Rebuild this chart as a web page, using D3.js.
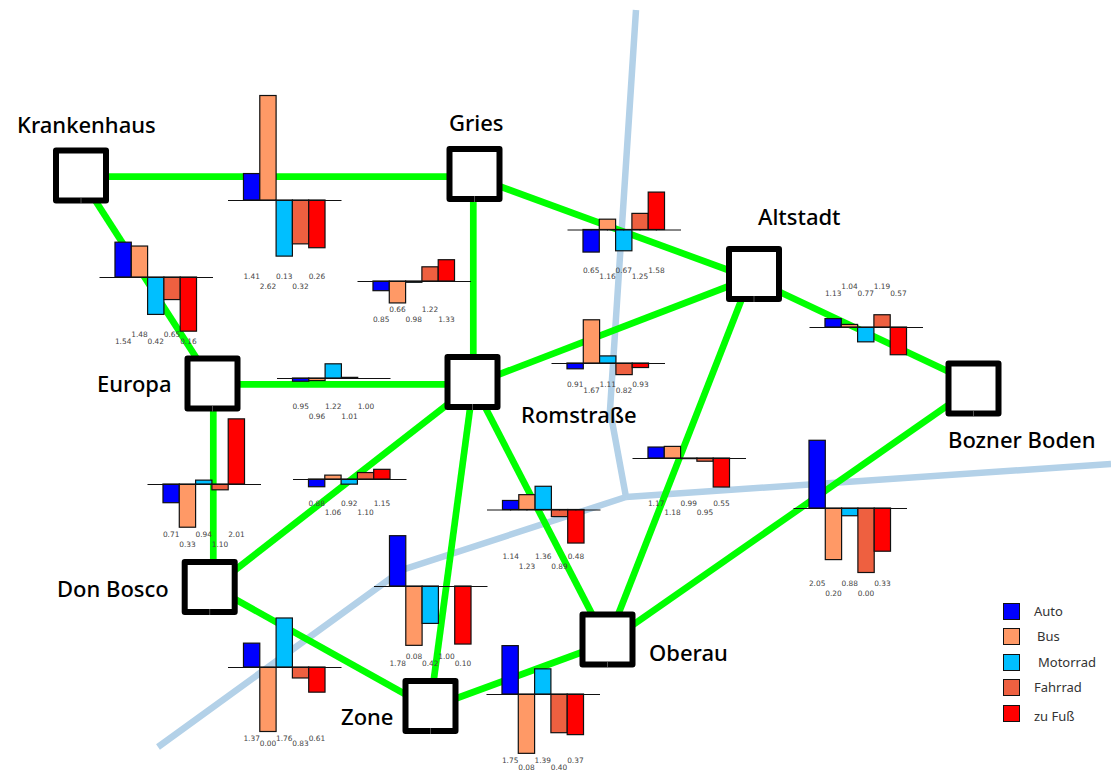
<!DOCTYPE html>
<html>
<head>
<meta charset="utf-8">
<style>
  html, body { margin: 0; padding: 0; background: #fff; }
  svg { display: block; }
</style>
<script src="https://cdn.jsdelivr.net/npm/d3@7"></script>
</head>
<body>
<svg id="chart" width="1111" height="771"></svg>
<script>
const modes = ['Auto', 'Bus', 'Motorrad', 'Fahrrad', 'zu Fuß']
const modeColors = ['#0000ff', '#ff9966', '#00bfff', '#ee6040', '#ff0000']

const stops = ['Krankenhaus', 'Gries', 'Altstadt', 'Europa', 'Romstraße', 'Bozner Boden', 'Don Bosco', 'Oberau', 'Zone']

const links = [
  ['Krankenhaus', 'Gries'],
  ['Krankenhaus', 'Europa'],
  ['Gries', 'Romstraße'],
  ['Gries', 'Altstadt'],
  ['Romstraße', 'Altstadt'],
  ['Europa', 'Romstraße'],
  ['Europa', 'Don Bosco'],
  ['Don Bosco', 'Romstraße'],
  ['Altstadt', 'Oberau'],
  ['Romstraße', 'Oberau'],
  ['Romstraße', 'Zone'],
  ['Don Bosco', 'Zone'],
  ['Zone', 'Oberau'],
  ['Altstadt', 'Bozner Boden'],
  ['Oberau', 'Bozner Boden']
]

// one row per link, same order as links
const linkValues = [
  [1.41, 2.62, 0.13, 0.32, 0.26],
  [1.54, 1.48, 0.42, 0.65, 0.16],
  [0.85, 0.66, 0.98, 1.22, 1.33],
  [0.65, 1.16, 0.67, 1.25, 1.58],
  [0.91, 1.67, 1.11, 0.82, 0.93],
  [0.95, 0.96, 1.22, 1.01, 1.00],
  [0.71, 0.33, 1.06, 0.91, 2.01],
  [0.88, 1.06, 0.92, 1.10, 1.15],
  [1.17, 1.18, 0.99, 0.95, 0.55],
  [1.14, 1.23, 1.36, 0.89, 0.48],
  [1.78, 0.08, 0.42, 1.00, 0.10],
  [1.37, 0.00, 1.76, 0.83, 0.61],
  [1.75, 0.08, 1.39, 0.40, 0.37],
  [1.13, 1.04, 0.77, 1.19, 0.57],
  [2.05, 0.20, 0.88, 0.00, 0.33]
]

// Europa - Don Bosco prints the inverse for these two, bars go the other way
const printedOverrides = { 6: [0.71, 0.33, 0.94, 1.10, 2.01] }

// Layout, not data
const stopX = [81, 474.5, 754, 212.5, 472.5, 973.5, 209.7, 607.5, 430.5]
const stopY = [175.5, 174, 274, 383.5, 382, 388.5, 587, 639.5, 706]
// edges do not meet the squares dead centre
const edgeX = [80, 473.3, 750, 213.3, 473.3, 977, 213.3, 607, 430]
const edgeY = [176.7, 176.7, 278, 384.3, 384.3, 385, 587, 643, 708]
const nameX = [17, 449, 758, 97, 521, 948, 57, 649, 341]
const nameY = [133, 131, 225, 392, 423, 448, 597, 661, 725]

const chartX = [227.5, 99, 357, 567, 551, 276.5, 147, 292.5, 632, 486.5, 373.5, 227.5, 486, 809, 793]
const chartY = [200, 277, 281, 229.5, 363, 378, 484, 479, 458, 509.5, 586, 667, 694, 327, 508]
const labelOddY = [276, 341, 319, 270, 384, 406, 534, 503, 503, 556, 663, 738, 760, 293, 583]
const labelEvenY = [286, 334, 309, 276, 390, 416, 544, 512, 512, 566, 656, 743, 767, 286, 593]

const riverNorth = [[636, 10], [610, 410], [626, 497]]
const riverEast = [[626, 497], [1111, 464]]
const riverWest = [[626, 497], [402, 570], [158, 747]]

const legendX = [1034, 1037, 1038, 1034, 1034]
const legendY = [616, 641, 667, 692, 721]
const swatchY = [603, 628, 654, 679, 705]

const svg = d3.select('#chart')
const mapX = d3.scaleIdentity()
const mapY = d3.scaleIdentity()
const stopIndex = d3.scaleOrdinal().domain(stops).range(d3.range(stops.length))
const color = d3.scaleOrdinal().domain(modes).range(modeColors)

const line = d3.line().x(d => mapX(d[0])).y(d => mapY(d[1]))

// Rivers
svg.append('g')
  .selectAll('path')
  .data([riverNorth, riverEast, riverWest])
  .enter()
  .append('path')
  .attr('d', line)
  .style('fill', 'none')
  .style('stroke', '#b3d1e8')
  .style('stroke-width', 6.5)

// Network
svg.append('g')
  .selectAll('line')
  .data(links)
  .enter()
  .append('line')
  .attr('x1', d => mapX(edgeX[stopIndex(d[0])]))
  .attr('y1', d => mapY(edgeY[stopIndex(d[0])]))
  .attr('x2', d => mapX(edgeX[stopIndex(d[1])]))
  .attr('y2', d => mapY(edgeY[stopIndex(d[1])]))
  .style('stroke', '#00ff00')
  .style('stroke-width', 6.7)

// Stops
const nodes = svg.append('g')
  .selectAll('g')
  .data(stops)
  .enter()
  .append('g')
  .attr('transform', (d, i) => `translate(${mapX(stopX[i])},${mapY(stopY[i])})`)

nodes.append('rect')
  .attr('x', -25)
  .attr('y', -25)
  .attr('width', 50)
  .attr('height', 50)
  .style('fill', '#fff')
  .style('stroke', '#000')
  .style('stroke-width', 6)
  .style('stroke-linejoin', 'round')

// hairline seam in the bottom side of every square
nodes.append('line')
  .attr('x1', 0)
  .attr('x2', 0)
  .attr('y1', 22)
  .attr('y2', 28)
  .style('stroke', '#888')
  .style('stroke-width', 0.6)

svg.append('g')
  .selectAll('text')
  .data(stops)
  .enter()
  .append('text')
  .attr('x', (d, i) => mapX(nameX[i]))
  .attr('y', (d, i) => mapY(nameY[i]))
  .style('font-family', '"Noto Sans", sans-serif')
  .style('font-size', '22px')
  .style('font-weight', 500)
  .style('fill', '#000')
  .text(d => d)

// Small bar chart on every link, bars stand on the value 1
const pxPerUnit = 64.5
const chartWidth = 113.5
const x = d3.scaleBand().domain(modes).range([0, chartWidth]).paddingInner(0).paddingOuter(0.98)
const y = d3.scaleLinear().domain([0, 3]).range([pxPerUnit, -2 * pxPerUnit])

const charts = svg.append('g')
  .selectAll('g')
  .data(linkValues)
  .enter()
  .append('g')
  .attr('transform', (d, i) => `translate(${chartX[i]},${chartY[i]})`)

charts.each(function (values, i) {
  const chart = d3.select(this)
  const rows = values.map((v, j) => ({ mode: modes[j], value: v, printed: (printedOverrides[i] || values)[j] }))

  chart.selectAll('rect')
    .data(rows)
    .enter()
    .append('rect')
    .attr('x', d => x(d.mode))
    .attr('y', d => Math.min(y(d.value), y(1)))
    .attr('width', x.bandwidth())
    .attr('height', d => Math.abs(y(d.value) - y(1)))
    .style('fill', d => color(d.mode))
    .style('stroke', '#111')
    .style('stroke-width', 1.2)

  const axis = chart.append('g')
    .attr('transform', `translate(0,${y(1)})`)
    .call(d3.axisBottom(x).tickSize(1).tickSizeOuter(0).tickFormat(''))
  axis.select('.domain').style('stroke', '#111').style('stroke-width', 1)
  axis.selectAll('.tick line').style('stroke', '#111')

  chart.selectAll('text.value')
    .data(rows)
    .enter()
    .append('text')
    .classed('value', true)
    .attr('x', d => x(d.mode) + x.bandwidth() / 2)
    .attr('y', (d, j) => (j % 2 === 0 ? labelOddY[i] : labelEvenY[i]) - chartY[i])
    .attr('dy', '0.35em')
    .style('text-anchor', 'middle')
    .style('font-family', '"DejaVu Sans", sans-serif')
    .style('font-size', '7.4px')
    .style('fill', '#444')
    .text(d => d.printed.toFixed(2))
})

// Legend
const legend = svg.append('g')

legend.selectAll('rect')
  .data(modes)
  .enter()
  .append('rect')
  .attr('x', 1003.5)
  .attr('y', (d, i) => swatchY[i] + 0.5)
  .attr('width', 16)
  .attr('height', 16)
  .style('fill', d => color(d))
  .style('stroke', '#111')

legend.selectAll('text')
  .data(modes)
  .enter()
  .append('text')
  .attr('x', (d, i) => legendX[i])
  .attr('y', (d, i) => legendY[i])
  .style('font-family', '"Noto Sans", sans-serif')
  .style('font-size', '13px')
  .style('fill', '#333')
  .text(d => d)
</script>
</body>
</html>
